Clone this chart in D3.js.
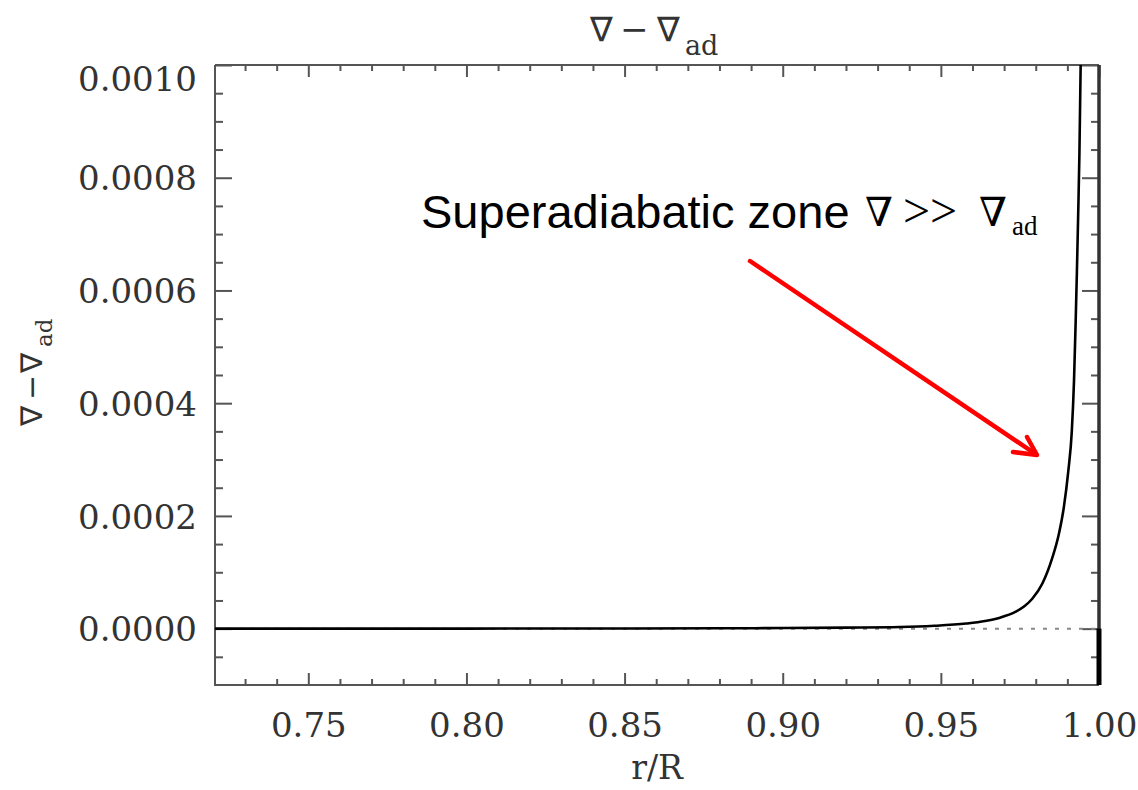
<!DOCTYPE html>
<html><head><meta charset="utf-8">
<script src="https://cdn.jsdelivr.net/npm/d3@7"></script>
<style>
body{margin:0;background:#fff;}
svg{display:block;}
</style></head>
<body>
<svg id="chart" width="1138" height="790"></svg>
<script>
// ---- data ----
const rValues = [0.7205, 0.75, 0.80, 0.85, 0.88, 0.90, 0.92, 0.937, 0.948, 0.958, 0.964, 0.9684, 0.9737, 0.9765, 0.9789, 0.9821, 0.9852, 0.9874, 0.9889, 0.9903, 0.9914, 0.9921, 0.9926, 0.9930, 0.9934, 0.9938, 0.9942, 0.9946];
const gradValues = [0, 0, 0.0000001, 0.0000003, 0.0000006, 0.0000010, 0.0000018, 0.0000028, 0.0000050, 0.0000090, 0.0000135, 0.0000190, 0.0000300, 0.0000400, 0.0000530, 0.0000800, 0.0001250, 0.0001700, 0.0002160, 0.0002800, 0.0003500, 0.0004400, 0.0005400, 0.0006300, 0.0007300, 0.0008400, 0.0010000, 0.0012500];
const xTicks = [0.75, 0.80, 0.85, 0.90, 0.95, 1.00];
const xTickLabels = ["0.75", "0.80", "0.85", "0.90", "0.95", "1.00"];
const yTicks = [0.0000, 0.0002, 0.0004, 0.0006, 0.0008, 0.0010];
const yTickLabels = ["0.0000", "0.0002", "0.0004", "0.0006", "0.0008", "0.0010"];
const xDomain = [0.7205, 1.0];
const yDomain = [-0.0001, 0.0010];

const svg = d3.select("#chart");
const L = 215, R = 1099, T = 65, B = 685;
const x = d3.scaleLinear().domain(xDomain).range([L, R]);
const y = d3.scaleLinear().domain(yDomain).range([B, T]);
const serif = "'DejaVu Serif',serif";
const axisCol = "#555";
const textCol = "#333";

// minor tick arrays
const xMinor = d3.range(73, 100).map(v => v / 100).filter(v => !xTicks.some(t => Math.abs(t - v) < 1e-9));
const yMinor = d3.range(-1, 21).map(v => v * 0.00005).filter(v => v > yDomain[0] && !yTicks.some(t => Math.abs(t - v) < 1e-9));

// axes via d3 axis generators
const gx = svg.append("g").attr("transform", `translate(0,${B})`)
  .call(d3.axisBottom(x).tickValues(xTicks).tickSize(-12).tickPadding(28).tickFormat((d, i) => xTickLabels[i]));
svg.append("g").attr("transform", `translate(0,${B})`)
  .call(d3.axisBottom(x).tickValues(xMinor).tickSize(-6).tickFormat(""));
svg.append("g").attr("transform", `translate(0,${T})`)
  .call(d3.axisTop(x).tickValues(xTicks).tickSize(-12).tickFormat(""));
svg.append("g").attr("transform", `translate(0,${T})`)
  .call(d3.axisTop(x).tickValues(xMinor).tickSize(-6).tickFormat(""));
const gy = svg.append("g").attr("transform", `translate(${L},0)`)
  .call(d3.axisLeft(y).tickValues(yTicks).tickSize(-17).tickPadding(18).tickFormat((d, i) => yTickLabels[i]));
svg.append("g").attr("transform", `translate(${L},0)`)
  .call(d3.axisLeft(y).tickValues(yMinor).tickSize(-8).tickFormat(""));
svg.append("g").attr("transform", `translate(${R},0)`)
  .call(d3.axisRight(y).tickValues(yTicks).tickSize(-17).tickFormat(""));
svg.append("g").attr("transform", `translate(${R},0)`)
  .call(d3.axisRight(y).tickValues(yMinor).tickSize(-8).tickFormat(""));

svg.selectAll(".domain").remove();
svg.selectAll(".tick line").attr("stroke", axisCol).attr("stroke-width", 2);
svg.selectAll(".tick text").attr("font-family", serif).attr("fill", textCol);
gx.selectAll(".tick text").attr("font-size", 34).attr("dy", "0.71em");
gy.selectAll(".tick text").attr("font-size", 34).attr("dy", "0.36em");
gy.selectAll(".tick").filter(d => d === 0.0010).select("text").attr("dy", "0.74em");

// frame
svg.append("path").attr("d", `M${L},${T}H${R}M${L},${T}V${B}H${R}`)
  .attr("fill", "none").attr("stroke", axisCol).attr("stroke-width", 2);
svg.append("line").attr("x1", R).attr("x2", R).attr("y1", T).attr("y2", B)
  .attr("stroke", "#333").attr("stroke-width", 3.5);
svg.append("line").attr("x1", R).attr("x2", R).attr("y1", y(0)).attr("y2", B)
  .attr("stroke", "#000").attr("stroke-width", 5);

// clip
svg.append("clipPath").attr("id", "clip").append("rect")
  .attr("x", L).attr("y", T).attr("width", R - L).attr("height", B - T);

// dotted zero line
svg.append("line").attr("x1", L).attr("x2", R).attr("y1", y(0)).attr("y2", y(0))
  .attr("stroke", "#888").attr("stroke-width", 2).attr("stroke-dasharray", "4,8");

// curve
const pts = rValues.map((r, i) => [r, gradValues[i]]);
svg.append("path").datum(pts)
  .attr("clip-path", "url(#clip)")
  .attr("fill", "none").attr("stroke", "#000").attr("stroke-width", 2.6)
  .attr("d", d3.line().x(d => x(d[0])).y(d => y(d[1])).curve(d3.curveMonotoneX));

// title
const title = svg.append("text").attr("font-family", "'DejaVu Sans'").attr("fill", textCol);
title.append("tspan").attr("x", 590).attr("y", 41).attr("font-size", 34).text("∇");
title.append("tspan").attr("x", 620).attr("y", 41).attr("font-size", 34).text("−");
title.append("tspan").attr("x", 657).attr("y", 41).attr("font-size", 34).text("∇");
title.append("tspan").attr("x", 685).attr("y", 55).attr("font-family", serif).attr("font-size", 27).text("ad");

// x label
svg.append("text").attr("x", 657).attr("y", 779).attr("text-anchor", "middle")
  .attr("font-family", serif).attr("font-size", 33).attr("fill", textCol).text("r/R");

// y label
const yl = svg.append("text").attr("transform", "translate(42,426) rotate(-90)")
  .attr("font-family", "'DejaVu Sans'").attr("fill", textCol);
yl.append("tspan").attr("x", 0).attr("y", 0).attr("font-size", 30).text("∇");
yl.append("tspan").attr("x", 26).attr("y", 0).attr("font-size", 30).text("−");
yl.append("tspan").attr("x", 53).attr("y", 0).attr("font-size", 30).text("∇");
yl.append("tspan").attr("x", 79).attr("y", 10).attr("font-family", serif).attr("font-size", 23).text("ad");

// annotation
const ann = svg.append("text").attr("fill", "#000");
ann.append("tspan").attr("x", 421).attr("y", 228).attr("font-family", "'Liberation Sans',Arial,sans-serif").attr("font-size", 47).text("Superadiabatic zone");
ann.append("tspan").attr("x", 865).attr("y", 226).attr("font-family", serif).attr("font-size", 40).text("∇");
ann.append("tspan").attr("x", 903).attr("y", 227).attr("font-family", "'Liberation Serif',serif").attr("font-size", 48).text(">>");
ann.append("tspan").attr("x", 979).attr("y", 226).attr("font-family", serif).attr("font-size", 40).text("∇");
ann.append("tspan").attr("x", 1012).attr("y", 235).attr("font-family", "'Liberation Serif',serif").attr("font-size", 27).text("ad");

// arrow
svg.append("line").attr("x1", 750).attr("y1", 261).attr("x2", 1034).attr("y2", 453)
  .attr("stroke", "#f00").attr("stroke-width", 4.5).attr("stroke-linecap", "round");
svg.append("path").attr("d", "M1013,452L1037,455L1027,437")
  .attr("fill", "none").attr("stroke", "#f00").attr("stroke-width", 4.5)
  .attr("stroke-linecap", "round").attr("stroke-linejoin", "round");
</script>
</body></html>
